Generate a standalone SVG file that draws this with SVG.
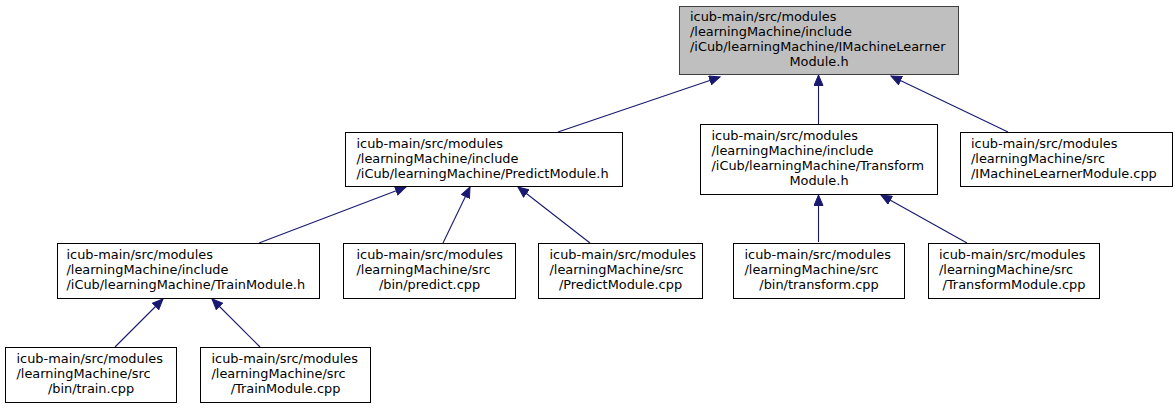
<svg xmlns="http://www.w3.org/2000/svg" width="1175" height="408" viewBox="0 0 1175 408">
<style>
rect.n{fill:#ffffff;stroke:#000000;stroke-width:1}
rect.root{fill:#bfbfbf;stroke:#404040;stroke-width:1}
text{font-family:"DejaVu Sans","Liberation Sans",sans-serif;font-size:12.9px;fill:#000000}
text.c{text-anchor:middle}
path.e{fill:none;stroke:#191970;stroke-width:1.1;marker-end:url(#ah)}
</style>
<defs>
<marker id="ah" markerUnits="userSpaceOnUse" markerWidth="12" markerHeight="10" refX="11" refY="5" orient="auto" viewBox="0 0 12 10">
<path d="M0.5,0.5 L11,5 L0.5,9.5 z" fill="#191970" stroke="#191970" stroke-width="1"/>
</marker>
</defs>
<rect width="1175" height="408" fill="#ffffff"/>
<g id="edges">
<path class="e" d="M558,132 L720,77"/>
<path class="e" d="M818.5,124 L818.5,75"/>
<path class="e" d="M1008,132 L891,76"/>
<path class="e" d="M259,243 L406,187"/>
<path class="e" d="M443,243 L470,187"/>
<path class="e" d="M590,243 L518,187"/>
<path class="e" d="M115,347 L163,299"/>
<path class="e" d="M260,347 L212,299"/>
<path class="e" d="M818.5,242 L818.5,195"/>
<path class="e" d="M967,243 L881,195"/>
</g>
<g id="node_root">
<rect class="root" x="679.5" y="6.5" width="279" height="68"/>
<text x="690" y="21">icub-main/src/modules</text>
<text x="690" y="36">/learningMachine/include</text>
<text x="690" y="51">/iCub/learningMachine/IMachineLearner</text>
<text class="c" x="819" y="66">Module.h</text>
</g>
<g id="node_predict_h">
<rect class="n" x="345.5" y="132.5" width="277" height="54"/>
<text x="356.5" y="147.5">icub-main/src/modules</text>
<text x="356.5" y="162.5">/learningMachine/include</text>
<text x="356.5" y="177.5">/iCub/learningMachine/PredictModule.h</text>
</g>
<g id="node_transform_h">
<rect class="n" x="700.5" y="124.5" width="237" height="70"/>
<text x="711.5" y="140">icub-main/src/modules</text>
<text x="711.5" y="155">/learningMachine/include</text>
<text x="711.5" y="170">/iCub/learningMachine/Transform</text>
<text class="c" x="819" y="185">Module.h</text>
</g>
<g id="node_iml_cpp">
<rect class="n" x="960.5" y="132.5" width="212" height="54"/>
<text x="971" y="147.5">icub-main/src/modules</text>
<text x="971" y="162.5">/learningMachine/src</text>
<text x="971" y="177.5">/IMachineLearnerModule.cpp</text>
</g>
<g id="node_train_h">
<rect class="n" x="57.5" y="243.5" width="262" height="55"/>
<text x="66.5" y="259">icub-main/src/modules</text>
<text x="66.5" y="274">/learningMachine/include</text>
<text x="66.5" y="289">/iCub/learningMachine/TrainModule.h</text>
</g>
<g id="node_predict_cpp">
<rect class="n" x="343.5" y="243.5" width="172" height="55"/>
<text x="356.5" y="259">icub-main/src/modules</text>
<text x="356.5" y="274">/learningMachine/src</text>
<text class="c" x="429.5" y="289">/bin/predict.cpp</text>
</g>
<g id="node_predictmodule_cpp">
<rect class="n" x="538.5" y="243.5" width="164" height="55"/>
<text x="549.5" y="259">icub-main/src/modules</text>
<text x="549.5" y="274">/learningMachine/src</text>
<text class="c" x="620.5" y="289">/PredictModule.cpp</text>
</g>
<g id="node_transform_cpp">
<rect class="n" x="733.5" y="243.5" width="171" height="55"/>
<text x="744.5" y="259">icub-main/src/modules</text>
<text x="744.5" y="274">/learningMachine/src</text>
<text class="c" x="819" y="289">/bin/transform.cpp</text>
</g>
<g id="node_transformmodule_cpp">
<rect class="n" x="928.5" y="243.5" width="171" height="55"/>
<text x="939" y="259">icub-main/src/modules</text>
<text x="939" y="274">/learningMachine/src</text>
<text class="c" x="1014" y="289">/TransformModule.cpp</text>
</g>
<g id="node_train_cpp">
<rect class="n" x="5.5" y="347.5" width="171" height="55"/>
<text x="16.5" y="363">icub-main/src/modules</text>
<text x="16.5" y="378">/learningMachine/src</text>
<text class="c" x="91" y="393">/bin/train.cpp</text>
</g>
<g id="node_trainmodule_cpp">
<rect class="n" x="200.5" y="347.5" width="170" height="55"/>
<text x="211.5" y="363">icub-main/src/modules</text>
<text x="211.5" y="378">/learningMachine/src</text>
<text class="c" x="285.5" y="393">/TrainModule.cpp</text>
</g>
</svg>
